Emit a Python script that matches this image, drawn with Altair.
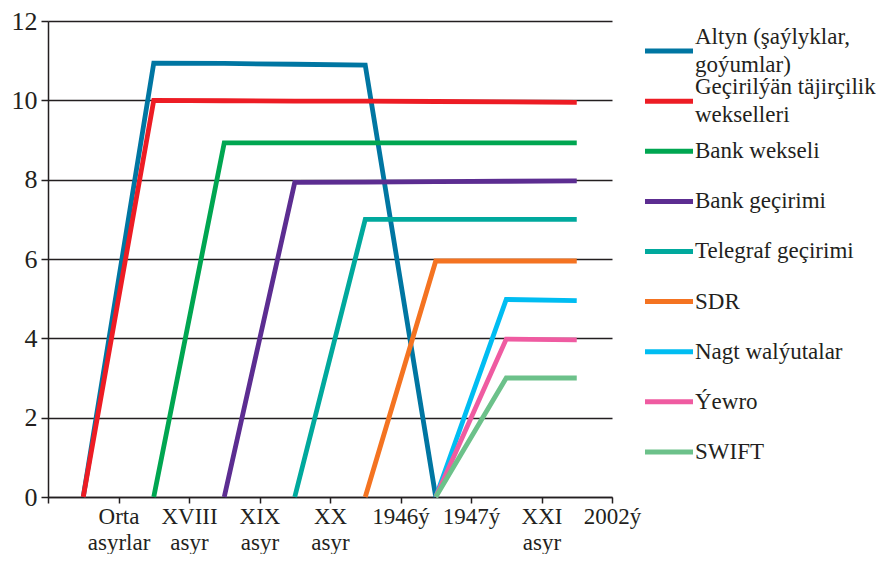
import json
import altair as alt
import pandas as pd

# ---- data ----
categories = ["Orta\nasyrlar", "XVIII\nasyr", "XIX\nasyr", "XX\nasyr",
              "1946ý", "1947ý", "XXI\nasyr", "2002ý"]

series = ["Altyn (şaýlyklar,\ngoýumlar)", "Geçirilýän täjirçilik\nwekselleri",
          "Bank wekseli", "Bank geçirimi", "Telegraf geçirimi", "SDR",
          "Nagt walýutalar", "Ýewro", "SWIFT"]

colors = ["#0076a2", "#ed1c24", "#00a651", "#5c2d91", "#00a99d",
          "#f47321", "#00bdf2", "#ef5ba1", "#6cc18a"]

altyn        = [0, 10.94, 10.93, 10.91, 10.89, 0, None, None]
wekseller    = [0, 10.0, 9.99, 9.98, 9.98, 9.97, 9.96, 9.95]
bank_wekseli = [None, 0, 8.93, 8.93, 8.93, 8.93, 8.93, 8.93]
bank_gecirim = [None, None, 0, 7.93, 7.94, 7.95, 7.96, 7.97]
telegraf     = [None, None, None, 0, 7.0, 7.0, 7.0, 7.0]
sdr          = [None, None, None, None, 0, 5.95, 5.95, 5.95]
nagt         = [None, None, None, None, None, 0, 4.98, 4.95]
yewro        = [None, None, None, None, None, 0, 3.98, 3.96]
swift        = [None, None, None, None, None, 0, 3.0, 3.0]

all_values = [altyn, wekseller, bank_wekseli, bank_gecirim, telegraf,
              sdr, nagt, yewro, swift]

rows = []
for name, vals in zip(series, all_values):
    for i, v in enumerate(vals):
        if v is not None:
            rows.append({"series": name, "x": i + 0.5, "y": v})
df = pd.DataFrame(rows)

FONT = "Liberation Serif"
INK = "#231f20"

color_scale = alt.Scale(domain=series, range=colors)

axis_labels = json.dumps([c.replace("\n", "|") for c in categories], ensure_ascii=False)
label_expr = f"datum.value < 1 ? '' : split({axis_labels}[datum.value - 1], '|')"

main = alt.Chart(df).mark_line(strokeWidth=4.8, strokeJoin="miter", strokeCap="butt").encode(
    x=alt.X("x:Q", scale=alt.Scale(domain=[0, 8], nice=False, zero=False),
            axis=alt.Axis(values=list(range(9)), grid=False, tickSize=6, tickWidth=1.5,
                          domainWidth=1.5, labelExpr=label_expr, labelFontSize=23,
                          labelLineHeight=26, labelPadding=2, labelAngle=0,
                          labelOverlap=False, labelFlush=False, title=None)),
    y=alt.Y("y:Q", scale=alt.Scale(domain=[0, 12], nice=False),
            axis=alt.Axis(values=list(range(0, 13, 2)), grid=True, gridColor=INK,
                          gridWidth=1.5, gridOpacity=1, tickSize=7, tickWidth=1.5,
                          domainWidth=1.5, labelFontSize=26, labelPadding=4, title=None)),
    color=alt.Color("series:N", scale=color_scale, legend=None),
    detail="series:N",
).properties(width=564, height=476)

# legend drawn as its own small chart, one row per series
leg_df = pd.DataFrame({
    "series": series,
    "idx": list(range(len(series))),
    "x0": [0] * len(series),
    "x1": [1] * len(series),
    "multi": ["\n" in s for s in series],
})
leg_y = alt.Y("idx:Q", axis=None, scale=alt.Scale(domain=[8.9, -0.6], nice=False, zero=False))
leg_rule = alt.Chart(leg_df).mark_rule(strokeWidth=5).encode(
    y=leg_y,
    x=alt.X("x0:Q", scale=alt.Scale(domain=[0, 1], nice=False), axis=None),
    x2="x1:Q",
    color=alt.Color("series:N", scale=color_scale, legend=None),
)
text_style = dict(align="left", baseline="middle", dx=2, font=FONT, fontSize=23,
                  lineBreak="\n", lineHeight=28, color=INK)
leg_text1 = alt.Chart(leg_df).transform_filter("!datum.multi").mark_text(**text_style).encode(
    y=leg_y, x=alt.X("x1:Q"), text="series:N")
leg_text2 = alt.Chart(leg_df).transform_filter("datum.multi").mark_text(dy=-14, **text_style).encode(
    y=leg_y, x=alt.X("x1:Q"), text="series:N")
legend = alt.layer(leg_rule, leg_text1, leg_text2).properties(width=48, height=476)

chart = alt.hconcat(main, legend, spacing=33, bounds="flush").properties(
    padding={"left": 3, "top": 0, "right": 0, "bottom": 0}
).configure_view(stroke=None).configure_axis(
    domainColor=INK, tickColor=INK, labelColor=INK, labelFont=FONT
)

chart.save("out.html", embed_options={"renderer": "svg", "actions": False})
